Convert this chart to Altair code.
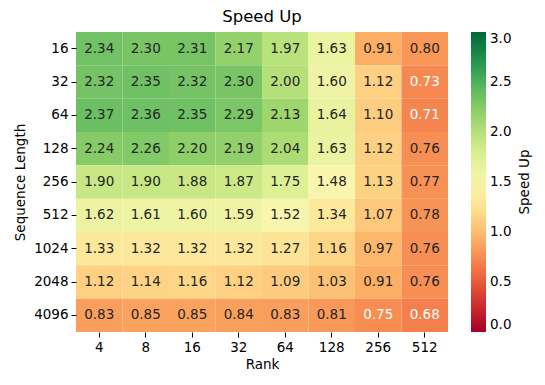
import altair as alt
import pandas as pd

ranks = ["4", "8", "16", "32", "64", "128", "256", "512"]
seq_lengths = ["16", "32", "64", "128", "256", "512", "1024", "2048", "4096"]

row_16 = [2.34, 2.30, 2.31, 2.17, 1.97, 1.63, 0.91, 0.80]
row_32 = [2.32, 2.35, 2.32, 2.30, 2.00, 1.60, 1.12, 0.73]
row_64 = [2.37, 2.36, 2.35, 2.29, 2.13, 1.64, 1.10, 0.71]
row_128 = [2.24, 2.26, 2.20, 2.19, 2.04, 1.63, 1.12, 0.76]
row_256 = [1.90, 1.90, 1.88, 1.87, 1.75, 1.48, 1.13, 0.77]
row_512 = [1.62, 1.61, 1.60, 1.59, 1.52, 1.34, 1.07, 0.78]
row_1024 = [1.33, 1.32, 1.32, 1.32, 1.27, 1.16, 0.97, 0.76]
row_2048 = [1.12, 1.14, 1.16, 1.12, 1.09, 1.03, 0.91, 0.76]
row_4096 = [0.83, 0.85, 0.85, 0.84, 0.83, 0.81, 0.75, 0.68]

rows = [row_16, row_32, row_64, row_128, row_256, row_512, row_1024, row_2048, row_4096]

colorbar_title = ["Speed Up"]

records = []
for s, vals in zip(seq_lengths, rows):
    for r, v in zip(ranks, vals):
        records.append({"seq": s, "rank": r, "value": v})
df = pd.DataFrame(records)

FONT = "DejaVu Sans"
W, H = 372, 300

base = alt.Chart(df).encode(
    x=alt.X("rank:O", sort=ranks, title="Rank",
            axis=alt.Axis(labelAngle=0, domain=False, tickSize=5, labelFontSize=13.5,
                          titleFontSize=13.5, titleFontWeight="normal", labelColor="black",
                          titleColor="black", tickColor="black", labelPadding=3, titlePadding=4)),
    y=alt.Y("seq:O", sort=seq_lengths, title="Sequence Length",
            axis=alt.Axis(domain=False, tickSize=5, labelFontSize=13.5,
                          titleFontSize=13.5, titleFontWeight="normal", labelColor="black",
                          titleColor="black", tickColor="black", labelPadding=3, titlePadding=6)),
)

rects = base.mark_rect(strokeWidth=0).encode(
    color=alt.Color("value:Q",
                    scale=alt.Scale(scheme="redyellowgreen", domain=[0, 3]),
                    legend=alt.Legend(title=None, gradientLength=H, gradientThickness=15,
                                      values=[0, 0.5, 1, 1.5, 2, 2.5, 3], format=".1f",
                                      labelFontSize=13.5, offset=23, labelColor="black",
                                      labelOffset=4))
)

texts = base.mark_text(fontSize=13.5, font=FONT).encode(
    text=alt.Text("value:Q", format=".2f"),
    color=alt.condition("datum.value < 0.755", alt.value("white"), alt.value("#262626")),
)

cbar_title = alt.Chart(pd.DataFrame({"t": colorbar_title})).mark_text(
    angle=270, fontSize=13.5, font=FONT, color="black", baseline="middle", align="center"
).encode(text="t:N", x=alt.value(W + 77), y=alt.value(H / 2))

chart = (rects + texts + cbar_title).properties(
    width=W, height=H,
    padding={"left": 5, "top": 0, "right": 5, "bottom": 5},
    title=alt.TitleParams("Speed Up", fontSize=16.5, fontWeight="normal", font=FONT, color="black", offset=7),
).configure(font=FONT).configure_view(strokeWidth=0).configure_scale(bandPaddingInner=0, bandPaddingOuter=0)

chart.save("out.html", embed_options={"renderer": "svg", "actions": False})
